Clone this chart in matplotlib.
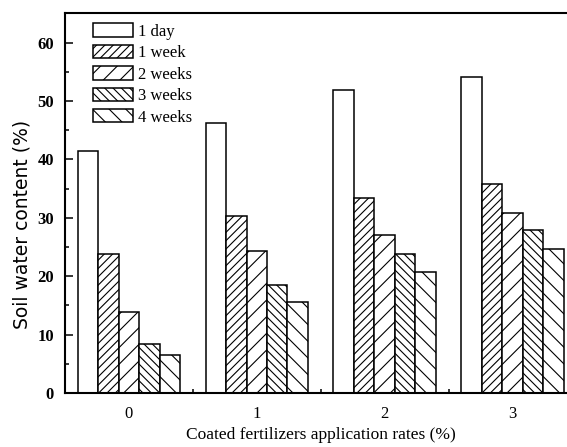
import numpy as np
import matplotlib.pyplot as plt
from matplotlib.ticker import MultipleLocator

# datos
rates = ['0', '1', '2', '3']
series = ['1 day', '1 week', '2 weeks', '3 weeks', '4 weeks']
day1 = [41.5, 46.3, 51.9, 54.1]
week1 = [23.8, 30.3, 33.4, 35.8]
week2 = [13.8, 24.3, 27.1, 30.8]
week3 = [8.4, 18.5, 23.8, 27.9]
week4 = [6.5, 15.6, 20.8, 24.6]
hatches = ['', '////', '//', '\\\\\\\\', '\\\\']

plt.rcParams['font.family'] = ['Liberation Serif', 'DejaVu Serif']
plt.rcParams['hatch.linewidth'] = 0.8

fig = plt.figure(figsize=(5.67, 4.47), dpi=100)
ax = fig.add_axes([0.1146, 0.1208, 0.902, 0.849])

x = np.arange(len(rates))
w = 0.16
for i, (vals, lab) in enumerate(zip([day1, week1, week2, week3, week4], series)):
    ax.bar(x + (i - 2) * w, vals, w, label=lab, color='white', edgecolor='black',
           hatch=hatches[i], linewidth=1.1, zorder=2)

ax.set_xlim(-0.5, 3.5)
ax.set_ylim(0, 65)
ax.set_xticks(x)
ax.set_xticklabels(rates)
ax.xaxis.set_minor_locator(MultipleLocator(0.5))
ax.yaxis.set_major_locator(MultipleLocator(10))
ax.yaxis.set_minor_locator(MultipleLocator(5))
ax.tick_params(which='both', direction='in', width=1.1, labelsize=12)
ax.tick_params(which='major', length=6)
ax.tick_params(which='minor', length=3)
ax.tick_params(axis='x', pad=9)
ax.tick_params(axis='y', pad=8)
for lbl in ax.get_yticklabels():
    lbl.set_fontweight('bold')
for s in ax.spines.values():
    s.set_linewidth(1.5)

ax.set_xlabel('Coated fertilizers application rates (%)', fontsize=12.5, labelpad=4)
ax.set_ylabel('Soil water content (%)', fontsize=13.5, family='DejaVu Sans')
ax.yaxis.set_label_coords(-0.066, 0.445)

ax.legend(loc='upper left', bbox_to_anchor=(0.035, 1.0), frameon=False, fontsize=12,
          handlelength=2.4, handleheight=0.85, handletextpad=0.3, labelspacing=0.3,
          borderaxespad=0.2)

plt.savefig('out.png', dpi=100)
